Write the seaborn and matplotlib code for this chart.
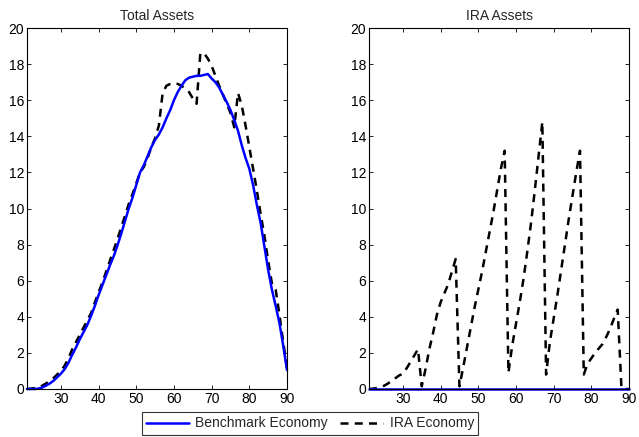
import numpy as np
import pandas as pd
import matplotlib
matplotlib.use("Agg")
import matplotlib.pyplot as plt
import seaborn as sns

ages = list(range(21, 91))

total_benchmark = [0.0, 0.0, 0.0, 0.02, 0.08, 0.18, 0.3, 0.45, 0.65, 0.85,
                   1.1, 1.45, 1.9, 2.3, 2.75, 3.15, 3.55, 4.05, 4.6, 5.2,
                   5.75, 6.3, 6.85, 7.35, 7.95, 8.6, 9.3, 10.0, 10.6, 11.3,
                   12.0, 12.4, 12.9, 13.4, 13.8, 14.1, 14.5, 15.0, 15.45, 16.0,
                   16.45, 16.8, 17.1, 17.25, 17.3, 17.35, 17.35, 17.4, 17.45, 17.2,
                   17.0, 16.7, 16.3, 15.9, 15.45, 14.9, 14.3, 13.5, 12.8, 12.2,
                   11.3, 10.2, 9.2, 7.9, 6.6, 5.5, 4.6, 3.65, 2.4, 1.05]

total_ira = [0.0, 0.02, 0.05, 0.1, 0.18, 0.3, 0.45, 0.6, 0.8, 1.0,
             1.3, 1.7, 2.2, 2.6, 3.0, 3.4, 3.8, 4.2, 4.8, 5.35,
             5.9, 6.5, 7.1, 7.7, 8.3, 8.95, 9.6, 10.25, 10.8, 11.4,
             12.0, 12.3, 12.8, 13.4, 13.9, 14.6, 16.4, 16.8, 16.9, 16.95,
             16.9, 16.8, 16.65, 16.45, 16.1, 15.8, 18.6, 18.6, 18.3, 17.9,
             17.35, 16.8, 16.3, 15.8, 15.3, 14.5, 16.4, 15.7, 14.6, 13.4,
             12.2, 11.0, 9.7, 8.5, 7.1, 5.85, 5.5, 4.1, 2.6, 1.15]

ira_benchmark = [0.0] * 70

ira_ira = [0.0, 0.02, 0.05, 0.1, 0.18, 0.3, 0.45, 0.6, 0.75, 0.85,
           1.15, 1.5, 1.85, 2.2, 0.15, 1.1, 2.2, 3.1, 4.1, 4.8,
           5.3, 5.8, 6.5, 7.2, 0.15, 1.2, 2.3, 3.4, 4.5, 5.5,
           6.5, 7.6, 8.7, 9.8, 11.0, 12.2, 13.2, 0.9, 2.4, 3.6,
           4.8, 6.1, 7.6, 9.2, 11.0, 12.9, 14.8, 0.8, 2.6, 3.9,
           5.2, 6.6, 8.0, 9.4, 10.7, 12.0, 13.2, 0.8, 1.4, 1.7,
           2.0, 2.25, 2.5, 2.9, 3.35, 3.9, 4.4, 0.05, 0.0, 0.0]

titles = ["Total Assets", "IRA Assets"]
series_names = ["Benchmark Economy", "IRA Economy"]
x_ticks = [30, 40, 50, 60, 70, 80, 90]
y_ticks = [0, 2, 4, 6, 8, 10, 12, 14, 16, 18, 20]

FS = 10
sns.set_style("white")
plt.rcParams['font.family'] = ['Liberation Sans', 'DejaVu Sans']
plt.rcParams['font.size'] = FS

fig = plt.figure(figsize=(6.39, 4.37), dpi=100)
ax1 = fig.add_axes([27/639, 1-389/437, 260/639, 361/437])
ax2 = fig.add_axes([369/639, 1-389/437, 260/639, 361/437])

panels = [(ax1, total_benchmark, total_ira), (ax2, ira_benchmark, ira_ira)]
for (ax, bench, ira), title in zip(panels, titles):
    df = pd.DataFrame({"age": ages, "bench": bench, "ira": ira})
    sns.lineplot(data=df, x="age", y="ira", ax=ax, color="black", lw=1.8,
                 linestyle=(0, (3.2, 2.5)), label=series_names[1], legend=False)
    sns.lineplot(data=df, x="age", y="bench", ax=ax, color="#0000ff", lw=1.8,
                 label=series_names[0], legend=False, clip_on=False)
    ax.set_xlim(21, 90)
    ax.set_ylim(0, 20)
    ax.set_xticks(x_ticks)
    ax.set_yticks(y_ticks)
    ax.set_xlabel("")
    ax.set_ylabel("")
    ax.set_title(title, fontsize=FS, pad=6)
    ax.tick_params(direction="in", length=3, width=0.6, top=True, right=True,
                   bottom=True, left=True, labelsize=FS, pad=2, colors="black")
    for s in ax.spines.values():
        s.set_color("black")
        s.set_linewidth(0.8)

h, l = ax1.get_legend_handles_labels()
order = [l.index(series_names[0]), l.index(series_names[1])]
leg = fig.legend([h[i] for i in order], [l[i] for i in order], ncol=2,
                 loc="center", bbox_to_anchor=(310/639, 1-423.5/437),
                 frameon=True, fancybox=False, edgecolor="black",
                 fontsize=FS, handlelength=3.1, columnspacing=0.9,
                 borderpad=0.3, handletextpad=0.45, borderaxespad=0)
leg.get_frame().set_linewidth(0.8)

fig.savefig("out.png", dpi=100)
